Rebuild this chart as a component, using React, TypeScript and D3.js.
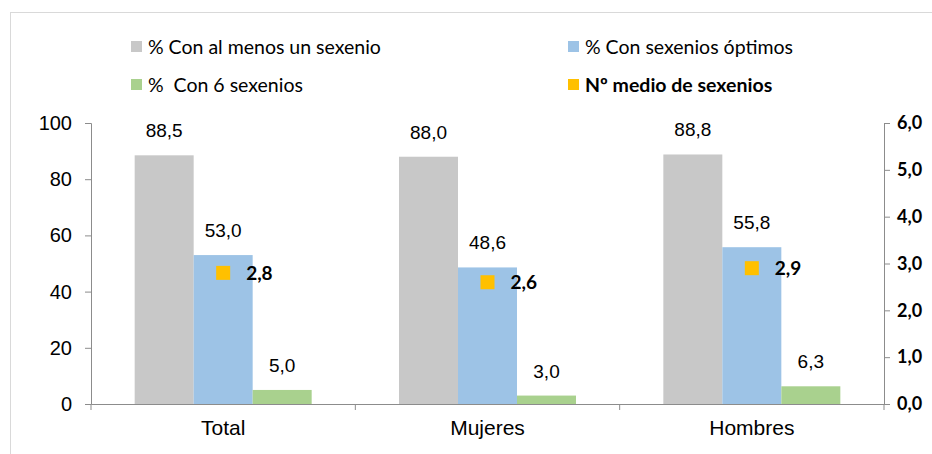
import { useEffect, useRef } from "react";
import * as d3 from "d3";

const categories = ["Total", "Mujeres", "Hombres"];
const conAlMenosUno = [88.5, 88.0, 88.8];
const conOptimos = [53.0, 48.6, 55.8];
const conSeis = [5.0, 3.0, 6.3];
const medioSexenios = [2.8, 2.6, 2.9];
const leftTicks = [0, 20, 40, 60, 80, 100];
const rightTicks = [0, 1, 2, 3, 4, 5, 6];

const seriesNames = [
  "% Con al menos un sexenio",
  "% Con sexenios óptimos",
  "%  Con 6 sexenios",
  "Nº medio de sexenios",
];
const colors = ["#c8c8c8", "#9dc3e6", "#a9d18e", "#ffc000"];

function App() {
  const svgRef = useRef<SVGSVGElement>(null);

  useEffect(() => {
    const svg = d3.select(svgRef.current);
    svg.selectAll("*").remove();

    const left = 91;
    const right = 884;
    const top = 123;
    const bottom = 404;

    // frame
    svg
      .append("rect")
      .attr("x", 10.5)
      .attr("y", 12.5)
      .attr("width", 940)
      .attr("height", 460)
      .attr("fill", "white")
      .attr("stroke", "#d9d9d9");

    const x = d3.scaleBand().domain(categories).range([left, right]);
    const inner = d3
      .scaleBand()
      .domain(["a", "b", "c"])
      .range([0, 177]);
    const y = d3.scaleLinear().domain([0, 100]).range([bottom, top]);
    const y2 = d3.scaleLinear().domain([0, 6]).range([bottom, top]);

    const groupX = (c: string) => x(c)! + (x.bandwidth() - 177) / 2;

    const series = [conAlMenosUno, conOptimos, conSeis];
    const keys = ["a", "b", "c"];
    const fmt = (v: number) => v.toFixed(1).replace(".", ",");

    series.forEach((vals, si) => {
      const g = svg.append("g");
      g.selectAll("rect")
        .data(vals)
        .join("rect")
        .attr("x", (_, i) => groupX(categories[i]) + inner(keys[si])!)
        .attr("y", (d) => y(d))
        .attr("width", inner.bandwidth())
        .attr("height", (d) => bottom - y(d))
        .attr("fill", colors[si]);
      g.selectAll("text")
        .data(vals)
        .join("text")
        .attr(
          "x",
          (_, i) => groupX(categories[i]) + inner(keys[si])! + inner.bandwidth() / 2
        )
        .attr("y", (d) => y(d) - 18)
        .attr("text-anchor", "middle")
        .attr("font-family", "Liberation Sans, Arial, sans-serif")
        .attr("font-size", 19)
        .attr("fill", "#000")
        .text((d) => fmt(d));
    });

    // markers
    const mg = svg.append("g");
    mg.selectAll("rect")
      .data(medioSexenios)
      .join("rect")
      .attr("x", (_, i) => x(categories[i])! + x.bandwidth() / 2 - 7)
      .attr("y", (d) => y2(d) - 7)
      .attr("width", 14)
      .attr("height", 14)
      .attr("fill", colors[3]);
    mg.selectAll("text")
      .data(medioSexenios)
      .join("text")
      .attr("x", (_, i) => x(categories[i])! + x.bandwidth() / 2 + 23)
      .attr("y", (d) => y2(d))
      .attr("dy", "0.35em")
      .attr("font-family", "Lato, sans-serif")
      .attr("font-weight", "bold")
      .attr("font-size", 19)
      .text((d) => fmt(d));

    // left axis
    const la = svg
      .append("g")
      .attr("transform", `translate(${left},0)`)
      .call(d3.axisLeft(y).tickValues(leftTicks).tickSize(6).tickPadding(13));
    la.selectAll("path,line").attr("stroke", "#8c8c8c");
    la.selectAll("text")
      .attr("font-family", "Liberation Sans, Arial, sans-serif")
      .attr("font-size", 20)
      .attr("fill", "#000");

    // right axis
    const ra = svg
      .append("g")
      .attr("transform", `translate(${right},0)`)
      .call(
        d3
          .axisRight(y2)
          .tickValues(rightTicks)
          .tickSize(6)
          .tickPadding(7)
          .tickFormat((d) => fmt(d as number))
      );
    ra.selectAll("path,line").attr("stroke", "#8c8c8c");
    ra.selectAll("text")
      .attr("font-family", "Lato, sans-serif")
      .attr("font-weight", "bold")
      .attr("font-size", 18)
      .attr("fill", "#000");

    // x axis
    const xa = svg
      .append("g")
      .attr("transform", `translate(0,${bottom})`)
      .call(d3.axisBottom(x).tickSize(0).tickPadding(16));
    xa.select(".domain").attr("stroke", "#8c8c8c");
    xa.selectAll("text")
      .attr("font-family", "Liberation Sans, Arial, sans-serif")
      .attr("font-size", 21)
      .attr("fill", "#000");
    xa.selectAll("line.sep")
      .data([left, ...categories.map((c) => x(c)! + x.bandwidth())])
      .join("line")
      .attr("class", "sep")
      .attr("x1", (d) => d)
      .attr("x2", (d) => d)
      .attr("y1", 0)
      .attr("y2", 6)
      .attr("stroke", "#8c8c8c");

    // legend
    const legendPos = [
      [131, 47],
      [568, 47],
      [131, 85],
      [568, 85],
    ];
    const lg = svg.append("g");
    seriesNames.forEach((name, i) => {
      const [lx, ly] = legendPos[i];
      lg.append("rect")
        .attr("x", lx)
        .attr("y", ly - 6)
        .attr("width", 11)
        .attr("height", 11)
        .attr("fill", colors[i]);
      lg.append("text")
        .attr("x", lx + 17)
        .attr("y", ly)
        .attr("dy", "0.35em")
        .attr("font-family", "Lato, sans-serif")
        .attr("font-size", 19.5)
        .attr("font-weight", i === 3 ? "bold" : "normal")
        .style("white-space", "pre")
        .text(name);
    });
  }, []);

  return (
    <svg
      ref={svgRef}
      width={932}
      height={454}
      style={{ position: "absolute", left: 0, top: 0 }}
    />
  );
}

export default App;
